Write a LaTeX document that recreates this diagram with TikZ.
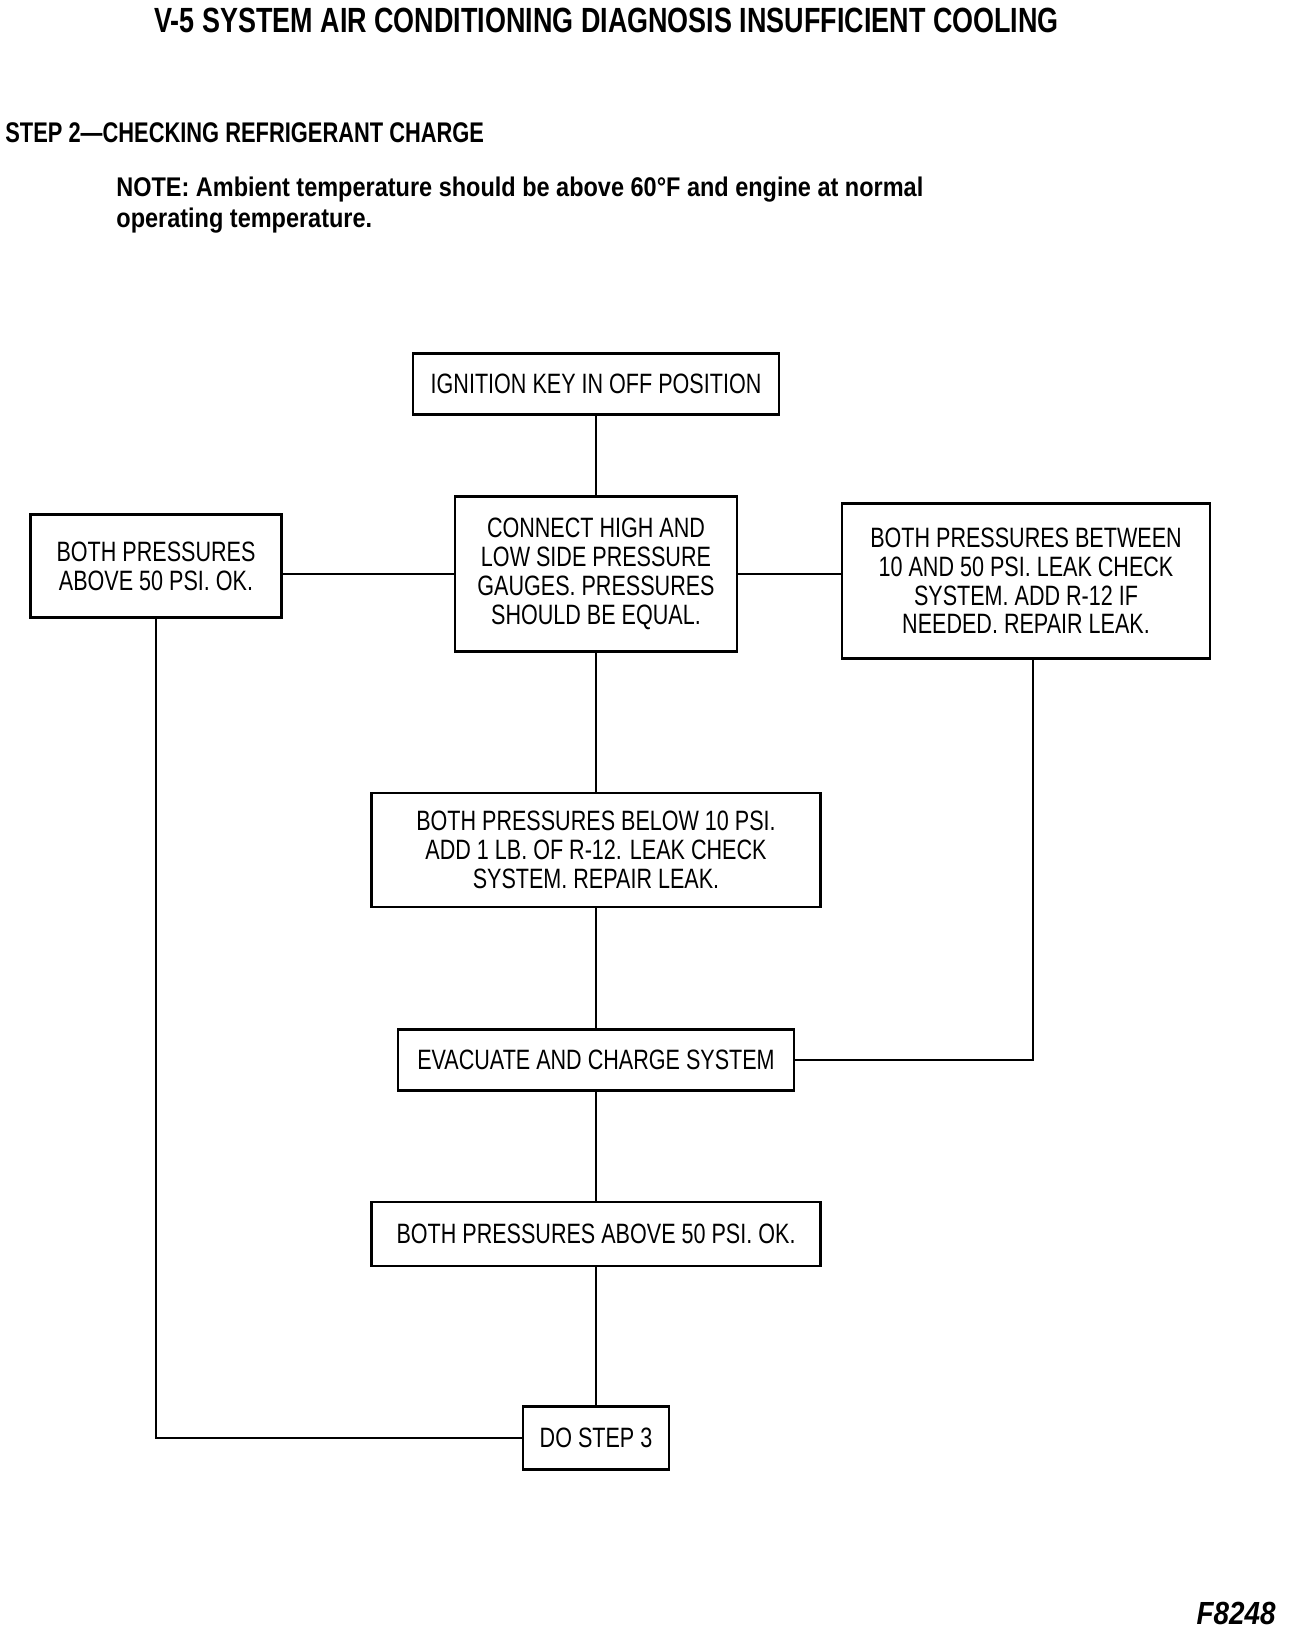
\documentclass[tikz,border=0pt]{standalone}
\usepackage{fontspec}
\setmainfont{Liberation Sans}[FakeStretch=0.77]
\newfontfamily\acnotefont{Liberation Sans}[FakeStretch=0.87]
\usetikzlibrary{positioning}
\tikzset{
  ac diagram/.style={x=0.5pt,y=-0.5pt,line cap=rect,line join=miter},
  ac box/.style={draw=black,fill=white,line width=1.4pt,align=center,
    inner sep=0pt,font=\fontsize{14}{14.4}\selectfont},
  ac link/.style={draw=black,line width=1.2pt},
  ac heading/.style={anchor=west,inner sep=0pt,align=left,font=\bfseries}
}

\begin{document}
\begin{tikzpicture}[ac diagram]
\useasboundingbox (0,0) rectangle (1296,1632);
% headings
\node[ac heading,font=\bfseries\fontsize{17.5}{20}\selectfont] (title) at (154,20) {V-5 SYSTEM AIR CONDITIONING DIAGNOSIS INSUFFICIENT COOLING};
\node[ac heading,font=\bfseries\fontsize{14.2}{16}\selectfont] (step) at (5,133) {STEP 2---CHECKING REFRIGERANT CHARGE};
\node[ac heading,font=\acnotefont\bfseries\fontsize{13.5}{15.5}\selectfont] (note) at (116,205) {NOTE: Ambient temperature should be above 60°F and engine at normal\\operating temperature.};
% boxes
\node[ac box,minimum width=183pt,minimum height=30.5pt] (ign) at (596,384) {IGNITION KEY IN OFF POSITION};
\node[ac box,minimum width=141pt,minimum height=77.5pt] (conn) at (596,574) {CONNECT HIGH AND\\LOW SIDE PRESSURE\\GAUGES. PRESSURES\\SHOULD BE EQUAL.};
\node[ac box,minimum width=125.5pt,minimum height=51.5pt] (okleft) at (156,566) {BOTH PRESSURES\\ABOVE 50 PSI. OK.};
\node[ac box,minimum width=184pt,minimum height=77.5pt] (between) at (1026,581) {BOTH PRESSURES BETWEEN\\10 AND 50 PSI. LEAK CHECK\\SYSTEM. ADD R-12 IF\\NEEDED. REPAIR LEAK.};
\node[ac box,minimum width=224.5pt,minimum height=57pt] (below) at (596,850) {BOTH PRESSURES BELOW 10 PSI.\\ADD 1 LB. OF R-12. LEAK CHECK\\SYSTEM. REPAIR LEAK.};
\node[ac box,minimum width=198pt,minimum height=30.5pt] (evac) at (596,1060) {EVACUATE AND CHARGE SYSTEM};
\node[ac box,minimum width=224.5pt,minimum height=32pt] (okbottom) at (596,1234) {BOTH PRESSURES ABOVE 50 PSI. OK.};
\node[ac box,minimum width=73pt,minimum height=31.5pt] (step3) at (596,1438) {DO STEP 3};
\node[anchor=east,inner sep=0pt,font=\acnotefont\bfseries\itshape\fontsize{16}{18}\selectfont] (fig) at (1276,1613) {F8248};
% connectors
\draw[ac link] (ign) -- (conn);
\draw[ac link] (conn) -- (below);
\draw[ac link] (below) -- (evac);
\draw[ac link] (evac) -- (okbottom);
\draw[ac link] (okbottom) -- (step3);
\draw[ac link] (conn.west) -- (conn.west -| okleft.east);
\draw[ac link] (conn.east) -- (conn.east -| between.west);
\draw[ac link] (okleft.south) |- (step3.west);
\draw[ac link] ([xshift=3.5pt]between.south) |- (evac.east);
\end{tikzpicture}
\end{document}
